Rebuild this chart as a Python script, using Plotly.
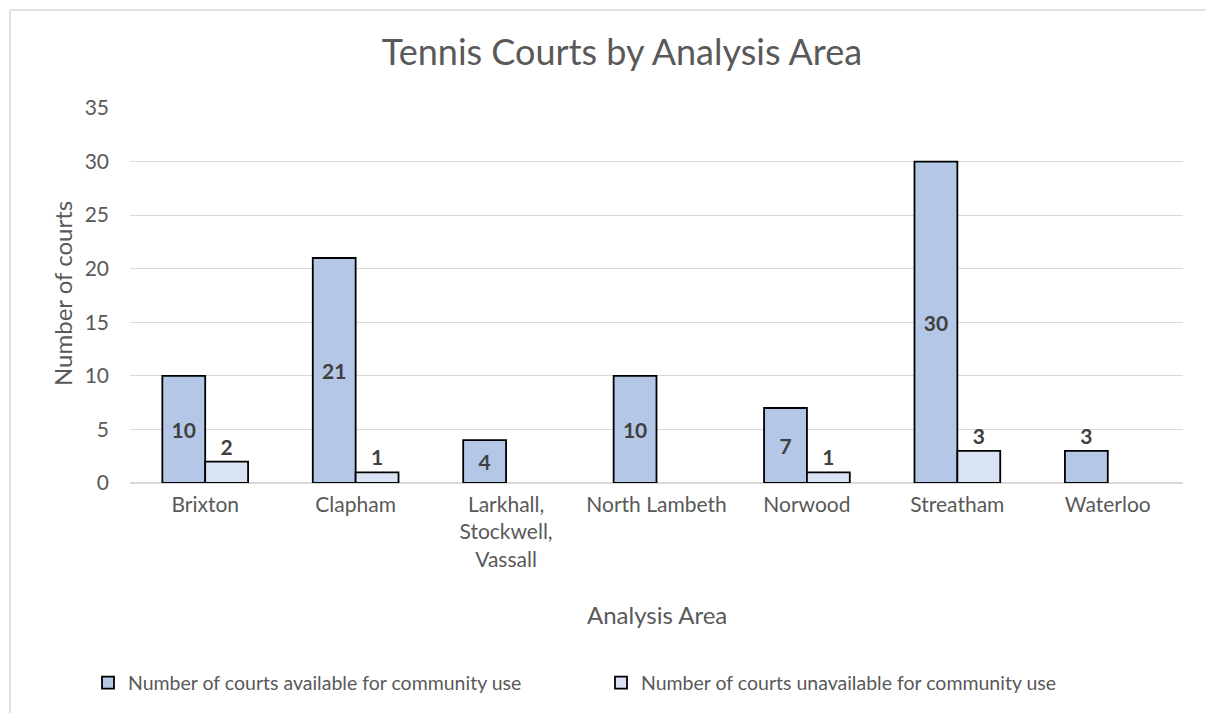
import plotly.graph_objects as go

categories = ["Brixton", "Clapham", "Larkhall,<br>Stockwell,<br>Vassall", "North Lambeth",
              "Norwood", "Streatham", "Waterloo"]
available = [10, 21, 4, 10, 7, 30, 3]
unavailable = [2, 1, 0, 0, 1, 3, 0]
available_label_pos = ["inside", "inside", "inside", "inside", "inside", "inside", "outside"]
unavailable_label_pos = ["outside"] * 7

FONT = "Lato, 'Open Sans', sans-serif"
GREY = "#595959"
LABEL = "#404040"

L, R, T, B = 130, 23, 108, 230
W, H = 1206, 713
pw, ph = W - L - R, H - T - B

def px_x(p):
    return (p - L) / pw

def px_y(p):
    return (H - B - p) / ph

def outline(values):
    return [1.8 if v else 0 for v in values]

fig = go.Figure()
fig.add_trace(go.Bar(
    x=categories, y=available, name="Number of courts available for community use",
    marker=dict(color="#B4C7E7", line=dict(color="black", width=outline(available))),
    text=[str(v) if v else "" for v in available], textposition=available_label_pos,
    insidetextanchor="middle", textangle=0, constraintext="none",
    textfont=dict(family=FONT, size=21, color=LABEL, weight="bold"),
    cliponaxis=False,
))
fig.add_trace(go.Bar(
    x=categories, y=unavailable, name="Number of courts unavailable for community use",
    marker=dict(color="#DAE3F3", line=dict(color="black", width=outline(unavailable))),
    text=[str(v) if v else "" for v in unavailable], textposition=unavailable_label_pos,
    textangle=0, constraintext="none",
    textfont=dict(family=FONT, size=21, color=LABEL, weight="bold"),
    cliponaxis=False,
))

fig.update_layout(
    width=W, height=H,
    margin=dict(l=L, r=R, t=T, b=B, autoexpand=False),
    paper_bgcolor="white", plot_bgcolor="white",
    barmode="group", bargap=0.43, bargroupgap=0,
    font=dict(family=FONT, color=GREY, size=21),
    title=dict(text="Tennis Courts by Analysis Area", x=px_x(622), xref="paper",
               y=1 - 52 / H, yanchor="middle", xanchor="center",
               font=dict(family=FONT, size=36, color=GREY)),
    showlegend=True,
    legend=dict(orientation="h", x=px_x(88), xanchor="left", y=px_y(683), yanchor="middle",
                font=dict(family=FONT, size=19.5, color=GREY), traceorder="normal",
                itemwidth=30, entrywidth=468, entrywidthmode="pixels"),
    xaxis=dict(showgrid=False, showline=False, ticks="", tickfont=dict(size=21, color=GREY),
               ticklabelstandoff=7, fixedrange=True),
    yaxis=dict(range=[0, 35], dtick=5, showgrid=True, gridcolor="#D9D9D9", gridwidth=1,
               zeroline=True, zerolinecolor="#D9D9D9", zerolinewidth=1.5,
               showline=False, ticks="", tickfont=dict(size=21, color=GREY),
               ticklabelstandoff=20),
    annotations=[
        dict(text="Analysis Area", xref="paper", yref="paper", x=0.5, y=px_y(614),
             xanchor="center", yanchor="middle", showarrow=False,
             font=dict(family=FONT, size=24, color=GREY)),
        dict(text="Number of courts", xref="paper", yref="paper", x=px_x(62), y=px_y(294),
             xanchor="center", yanchor="middle", showarrow=False, textangle=-90,
             font=dict(family=FONT, size=24, color=GREY)),
    ],
    shapes=[
        dict(type="line", xref="paper", yref="paper", x0=px_x(10), x1=px_x(1210),
             y0=px_y(10), y1=px_y(10), line=dict(color="#D9D9D9", width=1.5)),
        dict(type="line", xref="paper", yref="paper", x0=px_x(10), x1=px_x(10),
             y0=px_y(10), y1=px_y(720), line=dict(color="#D9D9D9", width=1.5)),
    ],
)

fig.write_html("out.html")
